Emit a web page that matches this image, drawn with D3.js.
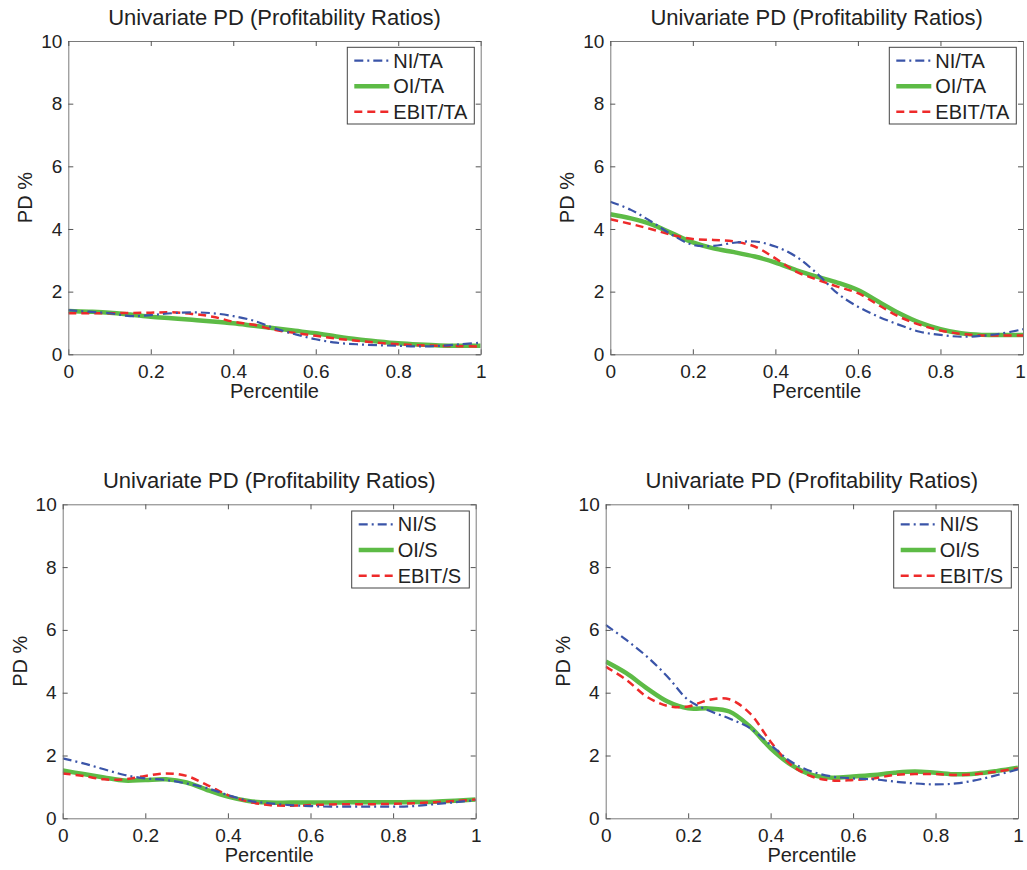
<!DOCTYPE html>
<html>
<head>
<meta charset="utf-8">
<script src="https://cdn.jsdelivr.net/npm/d3@7"></script>
<style>
  body { margin: 0; background: #fff; }
  svg { font-family: "Liberation Sans", Arial, sans-serif; }
</style>
</head>
<body>
<div id="chart"></div>
<script>
// percentile grid shared by every curve
const pct = [0, 0.05, 0.1, 0.15, 0.2, 0.25, 0.3, 0.35, 0.4, 0.45, 0.5,
             0.55, 0.6, 0.65, 0.7, 0.75, 0.8, 0.85, 0.9, 0.95, 1];

const xTicks = [0, 0.2, 0.4, 0.6, 0.8, 1];
const yTicks = [0, 2, 4, 6, 8, 10];
const titleText = 'Univariate PD (Profitability Ratios)';

// top-left
const niTA1   = [1.41, 1.36, 1.31, 1.22, 1.25, 1.31, 1.34, 1.31, 1.22, 1.07, 0.83,
                 0.64, 0.48, 0.37, 0.32, 0.29, 0.27, 0.25, 0.27, 0.32, 0.37];
const oiTA1   = [1.38, 1.36, 1.33, 1.27, 1.2, 1.15, 1.1, 1.05, 0.99, 0.91, 0.83,
                 0.75, 0.67, 0.57, 0.48, 0.41, 0.35, 0.31, 0.28, 0.27, 0.27];
const ebitTA1 = [1.31, 1.31, 1.31, 1.32, 1.33, 1.34, 1.29, 1.2, 1.04, 0.94, 0.78,
                 0.68, 0.59, 0.5, 0.43, 0.37, 0.32, 0.29, 0.27, 0.26, 0.25];

// top-right
const niTA2   = [4.87, 4.61, 4.23, 3.81, 3.49, 3.46, 3.56, 3.6, 3.44, 3.12, 2.59,
                 1.95, 1.52, 1.2, 0.94, 0.72, 0.62, 0.56, 0.59, 0.67, 0.8];
const oiTA2   = [4.47, 4.34, 4.15, 3.86, 3.57, 3.38, 3.26, 3.12, 2.93, 2.69, 2.48,
                 2.29, 2.05, 1.68, 1.31, 1.01, 0.8, 0.67, 0.62, 0.62, 0.62];
const ebitTA2 = [4.31, 4.16, 3.99, 3.81, 3.68, 3.65, 3.6, 3.44, 3.06, 2.64, 2.39,
                 2.16, 1.95, 1.57, 1.2, 0.94, 0.76, 0.65, 0.6, 0.6, 0.6];

// bottom-left
const niS3    = [1.91, 1.75, 1.56, 1.38, 1.27, 1.22, 1.11, 0.96, 0.74, 0.56, 0.48,
                 0.42, 0.39, 0.37, 0.37, 0.37, 0.37, 0.39, 0.45, 0.51, 0.58];
const oiS3    = [1.52, 1.41, 1.3, 1.2, 1.22, 1.24, 1.14, 0.9, 0.69, 0.55, 0.5,
                 0.5, 0.5, 0.5, 0.51, 0.51, 0.51, 0.52, 0.53, 0.56, 0.6];
const ebitS3  = [1.43, 1.35, 1.24, 1.24, 1.35, 1.43, 1.35, 1.06, 0.74, 0.53, 0.42,
                 0.4, 0.42, 0.44, 0.45, 0.45, 0.46, 0.48, 0.51, 0.55, 0.6];

// bottom-right
const niS4    = [6.16, 5.68, 5.15, 4.51, 3.77, 3.43, 3.18, 2.87, 2.34, 1.8, 1.49,
                 1.33, 1.27, 1.24, 1.17, 1.11, 1.08, 1.11, 1.22, 1.38, 1.56];
const oiS4    = [4.99, 4.62, 4.14, 3.72, 3.5, 3.5, 3.4, 2.92, 2.23, 1.7, 1.38,
                 1.29, 1.33, 1.38, 1.45, 1.49, 1.45, 1.4, 1.43, 1.51, 1.61];
const ebitS4  = [4.83, 4.41, 3.87, 3.58, 3.56, 3.77, 3.79, 3.34, 2.44, 1.7, 1.33,
                 1.2, 1.22, 1.27, 1.38, 1.41, 1.41, 1.38, 1.41, 1.49, 1.59];

const namesTA = ['NI/TA', 'OI/TA', 'EBIT/TA'];
const namesS  = ['NI/S', 'OI/S', 'EBIT/S'];

const styles = [
  { color: '#3a54a8', width: 2.2, dash: '9,4,2,4' },
  { color: '#5dbb46', width: 4.5, dash: null },
  { color: '#ee2a2a', width: 2.5, dash: '8,5' }
];

const panels = [
  { box: [68.3, 41, 480.7, 354.3],   names: namesTA, series: [niTA1, oiTA1, ebitTA1], legend: [347.3, 47.3, 474.3, 124] },
  { box: [610.3, 41, 1023, 354.3],   names: namesTA, series: [niTA2, oiTA2, ebitTA2], legend: [889.3, 47.3, 1016.3, 124] },
  { box: [62.7, 504.3, 475.7, 818.3], names: namesS, series: [niS3, oiS3, ebitS3],   legend: [351.7, 511, 469.3, 588] },
  { box: [605.7, 504.3, 1018, 818.3], names: namesS, series: [niS4, oiS4, ebitS4],   legend: [893.7, 511, 1011.3, 588] }
];

const svg = d3.select('#chart').append('svg')
  .attr('width', 1027)
  .attr('height', 870);

panels.forEach((p) => {
  const [x0, y0, x1, y1] = p.box;
  const x = d3.scaleLinear().domain([0, 1]).range([x0, x1]);
  const y = d3.scaleLinear().domain([0, 10]).range([y1, y0]);
  const g = svg.append('g');

  // curves
  const line = d3.line()
    .x((d, i) => x(pct[i]))
    .y((d) => y(d))
    .curve(d3.curveCatmullRom.alpha(0.5));

  const clipId = 'clip' + Math.round(x0) + '_' + Math.round(y0);
  g.append('clipPath').attr('id', clipId)
    .append('rect').attr('x', x0).attr('y', y0).attr('width', x1 - x0).attr('height', y1 - y0);

  [1, 2, 0].forEach((k) => {
    g.append('path')
      .attr('d', line(p.series[k]))
      .attr('fill', 'none')
      .attr('clip-path', 'url(#' + clipId + ')')
      .attr('stroke', styles[k].color)
      .attr('stroke-width', styles[k].width)
      .attr('stroke-dasharray', styles[k].dash);
  });

  // axes: bottom/left with labels, top/right only ticks
  const tick = 5;
  const bottom = g.append('g').attr('transform', 'translate(0,' + y1 + ')')
    .call(d3.axisBottom(x).tickValues(xTicks).tickSizeInner(-tick).tickSizeOuter(0).tickPadding(10)
      .tickFormat((d) => d === 0 || d === 1 ? d3.format('d')(d) : d3.format('.1f')(d)));
  const left = g.append('g').attr('transform', 'translate(' + x0 + ',0)')
    .call(d3.axisLeft(y).tickValues(yTicks).tickSizeInner(-tick).tickSizeOuter(0).tickPadding(6));
  g.append('g').attr('transform', 'translate(0,' + y0 + ')')
    .call(d3.axisTop(x).tickValues(xTicks).tickSizeInner(-tick).tickSizeOuter(0).tickFormat(''));
  g.append('g').attr('transform', 'translate(' + x1 + ',0)')
    .call(d3.axisRight(y).tickValues(yTicks).tickSizeInner(-tick).tickSizeOuter(0).tickFormat(''));

  g.selectAll('.domain').attr('stroke', '#7a7a7a');
  g.selectAll('.tick line').attr('stroke', '#555');
  bottom.selectAll('text').attr('font-size', 19).attr('fill', '#222')
    .attr('font-family', '"Liberation Sans", Arial, sans-serif');
  left.selectAll('text').attr('font-size', 19).attr('fill', '#222')
    .attr('font-family', '"Liberation Sans", Arial, sans-serif');

  // keep the last x label inside the page when the panel touches the edge
  bottom.selectAll('.tick text')
    .filter((d) => d === 1 && x1 > 1020)
    .attr('dx', -3);

  // title and labels
  g.append('text')
    .attr('x', (x0 + x1) / 2).attr('y', y0 - 16)
    .attr('text-anchor', 'middle')
    .attr('font-size', 22).attr('fill', '#222')
    .text(titleText);

  g.append('text')
    .attr('x', (x0 + x1) / 2).attr('y', y1 + 44)
    .attr('text-anchor', 'middle')
    .attr('font-size', 20).attr('fill', '#222')
    .text('Percentile');

  g.append('text')
    .attr('transform', 'translate(' + (x0 - 36) + ',' + ((y0 + y1) / 2) + ') rotate(-90)')
    .attr('text-anchor', 'middle')
    .attr('font-size', 20).attr('fill', '#222')
    .text('PD %');

  // legend
  const [lx0, ly0, lx1, ly1] = p.legend;
  const lg = g.append('g');
  lg.append('rect')
    .attr('x', lx0).attr('y', ly0).attr('width', lx1 - lx0).attr('height', ly1 - ly0)
    .attr('fill', '#fff').attr('stroke', '#444').attr('stroke-width', 1);
  const rowH = (ly1 - ly0) / 3;
  p.names.forEach((name, k) => {
    const cy = ly0 + rowH * (k + 0.5) + 0.5;
    lg.append('line')
      .attr('x1', lx0 + 7).attr('x2', lx0 + 42)
      .attr('y1', cy).attr('y2', cy)
      .attr('stroke', styles[k].color)
      .attr('stroke-width', styles[k].width)
      .attr('stroke-dasharray', styles[k].dash);
    lg.append('text')
      .attr('x', lx0 + 46).attr('y', cy + 7)
      .attr('font-size', 20).attr('fill', '#222')
      .text(name);
  });
});
</script>
</body>
</html>
